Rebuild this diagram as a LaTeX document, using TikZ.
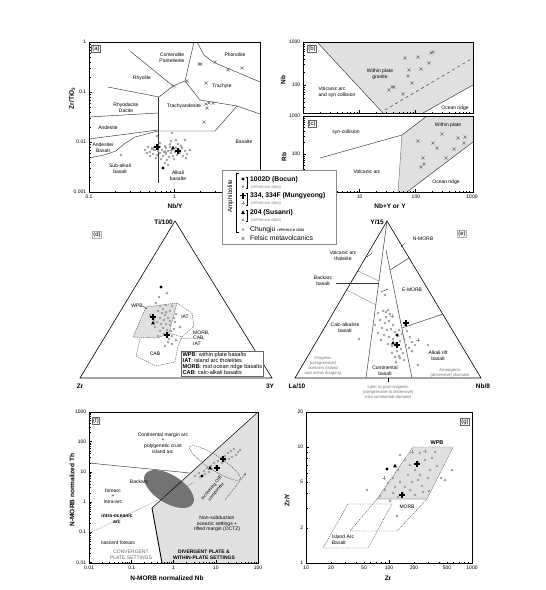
\documentclass[tikz,border=0pt]{standalone}
\usepackage{fontspec}
\setmainfont{Liberation Sans}
\usetikzlibrary{arrows.meta}
\newcommand\TicksX[6]{\foreach \d in {#3,...,#4}{\foreach \k in {1,...,9}{\pgfmathsetmacro\xx{#1+#2*(\d+log10(\k))}\ifnum\k=1\relax\draw[tk](\xx,#5)--++(0,-2*#6);\else\draw[tk](\xx,#5)--++(0,-#6);\fi}}}
\newcommand\TicksY[6]{\foreach \d in {#3,...,#4}{\foreach \k in {1,...,9}{\pgfmathsetmacro\yy{#1-#2*(\d+log10(\k))}\ifnum\k=1\relax\draw[tk](#5,\yy)--++(2*#6,0);\else\draw[tk](#5,\yy)--++(#6,0);\fi}}}
\tikzset{
 xm/.pic={\draw[line width=0.55pt,draw=black!55] (-1.5,-1.5)--(1.5,1.5) (-1.5,1.5)--(1.5,-1.5);},
 gd/.pic={\fill[black!38] (0,0) circle (1.3);},
 gt/.pic={\fill[black!38] (0,-1.7)--(1.5,1.0)--(-1.5,1.0)--cycle;},
 gc/.pic={\draw[black!38,line width=0.8pt] (-1.8,0)--(1.8,0) (0,-1.8)--(0,1.8);},
 bd/.pic={\fill[black] (0,0) circle (1.6);},
 bt/.pic={\fill[black] (0,-2.2)--(1.9,1.3)--(-1.9,1.3)--cycle;},
 bc/.pic={\draw[black,line width=1.3pt] (-3,0)--(3,0) (0,-3)--(0,3);}
}
\begin{document}
\begin{tikzpicture}[x=1pt,y=-1pt,
 lab/.style={font=\fontsize{5}{5.6}\selectfont,align=center,inner sep=0pt},
 smalltxt/.style={font=\fontsize{4.2}{4.9}\selectfont,align=center,inner sep=0pt,text=black!55},
 ticklab/.style={font=\fontsize{5}{5}\selectfont,inner sep=0.6pt},
 axt/.style={font=\fontsize{6.5}{7}\selectfont\bfseries,inner sep=0pt},
 plab/.style={font=\fontsize{6}{6}\selectfont,draw=black!60,line width=0.3pt,inner sep=0.8pt},
 frm/.style={line width=0.7pt},
 bnd/.style={line width=0.45pt,draw=black!80},
 tk/.style={line width=0.3pt},
 dsh/.style={line width=0.4pt,dash pattern=on 1.3pt off 0.9pt,draw=black!70},
 shd/.style={fill=black!12},
 legb/.style={font=\fontsize{6.8}{6.8}\selectfont\bfseries,anchor=west,inner sep=0pt},
 legs/.style={font=\fontsize{4.2}{4.2}\selectfont,anchor=west,inner sep=0pt,text=black!45},
]
\useasboundingbox (0,0) rectangle (546,590);
\fill[white] (0,0) rectangle (546,590);

%%%%%%%%%%%%%%%% (a)
\begin{scope}
\clip (89,42) rectangle (260,192);
\TicksX{174.5}{85.5}{-1}{1}{192}{1.5}
\TicksY{42}{50}{-3}{-1}{89}{1.5}
\end{scope}
\draw[bnd] (130,51)--(173,86);
\draw[bnd] (194,42)--(185,81)--(173,86);
\draw[bnd] (197,42)--(204,55)--(213,62)--(260,82);
\draw[bnd] (185,81)--(200,100)--(237,106)--(260,114);
\draw[bnd] (237,106)--(215,131)--(158,131);
\draw[bnd] (108,87)--(159,97)--(173,86);
\draw[bnd] (158,97)--(158,183);
\draw[bnd] (89,117)--(158,113);
\draw[bnd] (89,139)--(158,130);
\draw[bnd] (89,158)--(104,155)--(116,151)--(124,144)--(135,137)--(158,131);
\draw[frm] (89,42) rectangle (260,192);
\node[lab] (a1) at (172,58) {Comendite\\Pantellerite};
\node[lab] (a2) at (235,55) {Phonolite};
\node[lab] (a3) at (142,78) {Rhyolite};
\node[lab] (a4) at (222,86) {Trachyte};
\node[lab] (a5) at (126,108) {Rhyodacite\\Dacite};
\node[lab] (a6) at (184,106) {Trachyandesite};
\node[lab] (a7) at (108,128) {Andesite};
\node[lab] (a8) at (103,148) {Andesite/\\Basalt};
\node[lab] (a9) at (244,142) {Basalte};
\node[lab] (a10) at (120,169) {Sub-alkali\\basalt};
\node[lab] (a11) at (178,176) {Alkali\\basalte};
\node[plab] (ap) at (96,49) {(a)};
\node[ticklab,anchor=east] (ay1) at (87,42) {1};
\node[ticklab,anchor=east] (ay2) at (87,92) {0.1};
\node[ticklab,anchor=east] (ay3) at (87,142) {0.01};
\node[ticklab,anchor=east] (ay4) at (87,192) {0.001};
\node[ticklab,anchor=north] (ax1) at (89,194) {0.1};
\node[ticklab,anchor=north] (ax2) at (174.5,194) {1};
\node[axt] (axa) at (175,206) {Nb/Y};
\node[axt,rotate=90] (aya) at (72,98) {Zr/TiO\textsubscript{2}};
\foreach \x/\y in {199/64,201/64,215/62,228/70,242/68,187/81,174/86,206/83,206/104,209/103,213/103,207/108,204/122} \pic at (\x,\y) {xm};
\foreach \x/\y in {145/150,148/147,150/152,152/148,153/154,155/150,157/155,158/151,160/147,160/153,162/150,163/156,164/152,166/148,166/154,168/151,169/157,170/147,171/153,172/150,173/156,175/152,176/148,177/155,179/150,180/153,182/148,183/156,185/151,187/154,150/156,147/153,156/158,161/159,167/160,174/159,165/163,168/165,160/143,171/141,157/136,172/133,185/140,178/144,121/155} \pic at (\x,\y) {gd};
\foreach \x/\y in {176/140,181/146,170/144,165/146,186/158,190/150} \pic at (\x,\y) {gt};
\foreach \x/\y in {153/149,171/150,165/152} \pic at (\x,\y) {gc};
\pic at (163,168) {bd};
\pic at (173,148) {bt};
\pic at (157,147) {bc};
\pic at (178,151) {bc};

%%%%%%%%%%%%%%%% (b)
\fill[shd] (317,42)--(473,42)--(473,85)--(423,113)--(383,113)--cycle;
\begin{scope}
\clip (303,42) rectangle (473,113);
\TicksX{303}{56.3}{0}{2}{113}{1.5}
\TicksY{171}{43}{1}{2}{303}{1.5}
\end{scope}
\draw[bnd] (317,42)--(383,113);
\draw[bnd,dashed] (385,110)--(473,58);
\draw[bnd] (423,113)--(473,85);
\draw[frm] (303,42) rectangle (473,113);
\node[plab] (bp) at (312,49) {(b)};
\node[lab] (b1) at (380,74) {Within plate\\granite};
\node[lab,align=left] (b2) at (337,92) {Volcanic arc\\and syn collision};
\node[lab] (b3) at (455,108) {Ocean ridge};
\node[ticklab,anchor=east] (by1) at (301,42) {1000};
\node[ticklab,anchor=east] (by2) at (301,85) {100};
\node[axt,rotate=90] (bya) at (283,80) {Nb};
\foreach \x/\y in {405/58,418/57,431/53,433/52,429/63,409/70,421/69,408/76,412/83,392/87,394/87,389/90,403/94} \pic at (\x,\y) {xm};

%%%%%%%%%%%%%%%% (c)
\fill[shd] (402,135)--(427,116)--(473,116)--(473,142)--(407,192)--(398,192)--cycle;
\begin{scope}
\clip (303,116) rectangle (473,192);
\TicksX{303}{56.3}{0}{2}{192}{1.5}
\TicksY{230}{38}{1}{2}{303}{1.5}
\end{scope}
\draw[bnd] (320,158)--(402,135)--(427,116);
\draw[bnd,draw=black!55] (402,135)--(398,192);
\draw[bnd] (407,192)--(473,142);
\draw[frm] (303,116) rectangle (473,192);
\node[plab] (cp) at (312,124) {(c)};
\node[lab] (c1) at (346,132) {syn-collision};
\node[lab] (c2) at (448,125) {Within plate};
\node[lab] (c3) at (367,172) {Volcanic arc};
\node[lab] (c4) at (446,182) {Ocean ridge};
\node[ticklab,anchor=east] (cy1) at (301,116) {1000};
\node[ticklab,anchor=east] (cy2) at (301,154) {100};
\node[ticklab,anchor=north] (cx1) at (359.6,194) {10};
\node[ticklab,anchor=north] (cx2) at (415.9,194) {100};
\node[ticklab,anchor=north] (cx3) at (472,194) {1000};
\node[axt] (cxa) at (390,206) {Nb+Y or Y};
\node[axt,rotate=90] (cya) at (284,157) {Rb};
\foreach \x/\y in {418/141,433/143,437/148,442/134,458/138,465/137,464/143,454/149,446/158,423/158,424/164,421/167} \pic at (\x,\y) {xm};

%%%%%%%%%%%%%%%% legend
\node[draw=black!45,fill=white,line width=0.4pt,minimum width=114pt,minimum height=74pt,anchor=north west,inner sep=0pt] (leg) at (222,170) {};
\node[font=\fontsize{6.3}{6.3}\selectfont,rotate=90,inner sep=0pt] (amph) at (230.5,196) {Amphibolite};
\draw[line width=0.4pt] (239,173)--(236,173)--(236,232)--(239,232);
\pic at (243,179) {bd}; \pic at (243,186.5) {gd};
\draw[tk] (246,177)--(247.5,177)--(247.5,188.5)--(246,188.5);
\node[legb] (l1) at (250,179.5) {1002D (Bocun)};
\node[legs] (l1r) at (251,187) {(reference data)};
\pic at (243,195.5) {bc}; \pic at (243,203) {gc};
\draw[tk] (246,193)--(247.5,193)--(247.5,205)--(246,205);
\node[legb] (l2) at (250,195.5) {334, 334F (Mungyeong)};
\node[legs] (l2r) at (251,203) {(reference data)};
\pic at (243,212.5) {bt}; \pic at (243,220) {gt};
\draw[tk] (246,210)--(247.5,210)--(247.5,221.5)--(246,221.5);
\node[legb] (l3) at (250,212.5) {204 (Susanri)};
\node[legs] (l3r) at (251,220) {(reference data)};
\pic at (243,229.5) {gd};
\node[anchor=west,inner sep=0pt,font=\fontsize{6.8}{6.8}\selectfont] (l4) at (250,229.5) {Chungju {\fontsize{4.2}{4.2}\selectfont reference data}};
\pic at (243,238.5) {xm};
\node[anchor=west,inner sep=0pt,font=\fontsize{6.8}{6.8}\selectfont] (l5) at (250,238.5) {Felsic metavolcanics};

%%%%%%%%%%%%%%%% (d)
\filldraw[shd,dsh] (146,307)--(177,303)--(169,333)--(158,338)--(133,337)--cycle;
\draw[dsh] (177,303)--(192,313)--(194,326)--(182,337)--(169,333);
\draw[dsh] (140,339)--(136,356)--(156,366)--(175,362)--(178,346)--(182,337);
\draw[line width=0.6pt] (175,221)--(80,378)--(272,378)--cycle;
\foreach \x/\y in {159/297,156/303,160/306,163/309,158/311,162/313,165/315,160/318,164/320,168/318,157/322,161/324,166/324,170/325,163/328,167/330,171/331,160/331,164/334,172/336,169/339,174/329,175/322,155/327,150/315,170/311,172/306,166/305,176/314,154/320,168/342,165/346,172/344,158/336} \pic at (\x,\y) {gd};
\foreach \x/\y in {167/293,166/312,170/321,176/340,174/318,180/327} \pic at (\x,\y) {gt};
\pic at (161,287) {bd};
\pic at (153,323) {bt};
\pic at (153,317) {bc};
\pic at (167,335) {bc};
\node[lab] (dw) at (137,306) {WPB};
\draw[tk] (dw.east)--(147,309);
\node[lab] (di) at (185,317) {IAT};
\node[lab,align=left,anchor=west] (dm) at (193,338) {MORB,\\CAB,\\IAT};
\draw[tk,draw=black!50] (179,339)--(dm.west);
\node[lab] (dc) at (155,354) {CAB};
\node[plab,draw=black!30] (dp) at (97,235) {(d)};
\node[axt,anchor=east] (dt) at (173,222) {Ti/100};
\node[axt] (dz) at (80,386) {Zr};
\node[axt] (dy) at (270,386) {3Y};
\node[draw=black!60,fill=white,line width=0.4pt,font=\fontsize{5.6}{6}\selectfont,align=left,anchor=north west,inner sep=1.5pt] (dleg) at (181,351) {\textbf{WPB}: within plate basalts\\\textbf{IAT}: island arc tholeiites\\\textbf{MORB}: mid ocean ridge basalts\\\textbf{CAB}: calc-alkali basalts};

%%%%%%%%%%%%%%%% (e)
\draw[line width=0.6pt] (387,221)--(295,378)--(481,378)--cycle;
\draw[bnd] (387,221)--(366,378);
\draw[bnd] (386,250)--(412,378);
\draw[bnd] (390,270)--(409,258);
\draw[bnd] (402,328)--(443,314);
\draw[tk,draw=black!55] (358,271)--(379,281);
\draw[tk,draw=black!55] (347,290)--(376,305);
\draw[bnd] (336,283)--(379,283);
\draw[tk] (367,257)--(372,253);
\draw[tk] (401,247)--(405,243);
\draw[tk] (381,292)--(388,289);
\draw[tk] (388,378)--(388,382);
\foreach \x/\y in {378/313,383/311,386/317,390/314,380/320,385/323,389/321,393/325,382/328,387/330,391/329,395/332,399/330,384/335,389/337,393/339,398/336,402/334,388/344,392/346,396/343,400/341,404/339,406/345,401/349,397/351,392/353,395/357,399/356,403/353,409/348,412/342,410/337,407/331,378/333,381/340,386/312,375/325,415/345,404/360,359/339,385/295,428/345,418/365} \pic at (\x,\y) {gd};
\foreach \x/\y in {388/310,400/358,396/362,412/351,405/325} \pic at (\x,\y) {gt};
\foreach \x/\y in {418/340,392/316} \pic at (\x,\y) {gc};
\pic at (397,335) {bd};
\pic at (393,343) {bt};
\pic at (406,323) {bc};
\pic at (397,345) {bc};
\node[axt,anchor=east] (ey) at (384,222) {Y/15};
\node[plab,draw=black!30] (ep) at (462,234) {(e)};
\node[lab] (e1) at (423,239) {N-MORB};
\node[lab] (e2) at (343,256) {Volcanic arc\\tholeiite};
\node[lab] (e3) at (323,281) {Backarc\\basalt};
\node[lab] (e4) at (412,290) {E-MORB};
\node[lab] (e5) at (345,328) {Calc-alkaline\\basalt};
\node[lab] (e6) at (385,371) {Continental\\basalt};
\node[lab] (e7) at (438,356) {Alkali rift\\basalt};
\node[smalltxt] (e8) at (323,366) {Orogenic\\(compressive)\\domains (island\\and active margins)};
\node[smalltxt] (e9) at (450,373) {Anorogenic\\(distensive) domains};
\node[smalltxt] (e10) at (388,392) {Late- to post-orogenic\\(compressive to distensive)\\intra-continental domains};
\node[axt] (ela) at (297,386) {La/10};
\node[axt] (enb) at (483,386) {Nb/8};

%%%%%%%%%%%%%%%% (f)
\fill[shd] (258,412)--(258,563)--(162,563)--(152,508)--cycle;
\fill[black!55,rotate around={-32:(169,489)}] (169,489) ellipse (28 and 14);
\begin{scope}
\clip (89,412) rectangle (258,563);
\TicksX{173.5}{42.25}{-2}{2}{563}{1.5}
\TicksY{502}{30.2}{-2}{2}{89}{1.5}
\end{scope}
\draw[line width=0.5pt] (152,508)--(258,412);
\draw[line width=0.9pt] (152,508)--(162,563);
\draw[bnd] (89,463)--(190,473);
\draw[dsh,draw=black!50] (90,533)--(195,482);
\draw[dsh,rotate around={-33:(215,463)}] (215,463) ellipse (30 and 7);
\foreach \x/\y in {195/476,199/473,204/471,207/468,211/466,214/463,218/461,221/458,225/456,228/453,231/451,234/449,236/455,229/459,222/463,216/466,209/472,200/477,212/469,225/461,238/452,232/457} \pic at (\x,\y) {gd};
\foreach \x/\y in {240/450,205/474} \pic at (\x,\y) {gt};
\pic at (202,476) {bd};
\pic at (210,468) {bt};
\pic at (217,468) {bc};
\pic at (223,459) {bc};
\coordinate (fa0) at (225,500);
\coordinate (fa1) at (246,473);
\draw[line width=0.5pt,draw=black!60,dash pattern=on 1.5pt off 0.8pt,-{Stealth[length=3pt,width=2.5pt]}] (fa0)--(fa1);
\node[lab,rotate=50,font=\fontsize{4.5}{6}\selectfont] (fa) at (214,490) {Increasing OIB\\component};
\draw[frm] (89,412) rectangle (258,563);
\node[plab] (fp) at (96,421) {(f)};
\node[lab] (f1) at (163,443) {Continental margin arc\\+\\polygenetic crust\\island arc};
\node[lab] (f2) at (139,482) {Backarc};
\node[lab] (f3) at (113,496) {forearc\\+\\intra-arc};
\node[lab,font=\fontsize{5}{5.6}\selectfont\bfseries] (f4) at (117,519) {intra-oceanic\\arc};
\node[lab] (f5) at (118,543) {nascent forearc};
\node[lab,text=black!60] (f6) at (131,555) {CONVERGENT\\PLATE SETTINGS};
\node[lab,font=\fontsize{5}{5.6}\selectfont\bfseries] (f7) at (204,555) {DIVERGENT PLATE \&\\WITHIN-PLATE SETTINGS};
\node[lab] (f8) at (217,524) {Non-subduction\\oceanic settings +\\rifted margin (OCTZ)};
\node[ticklab,anchor=north] (fx1) at (89,565) {0.01};
\node[ticklab,anchor=north] (fx2) at (131.75,565) {0.1};
\node[ticklab,anchor=north] (fx3) at (173.5,565) {1};
\node[ticklab,anchor=north] (fx4) at (215.75,565) {10};
\node[ticklab,anchor=north] (fx5) at (258,565) {100};
\node[ticklab,anchor=east] (fy1) at (87,563) {0.01};
\node[ticklab,anchor=east] (fy2) at (87,532.2) {0.1};
\node[ticklab,anchor=east] (fy3) at (87,502) {1};
\node[ticklab,anchor=east] (fy4) at (87,471.8) {10};
\node[ticklab,anchor=east] (fy5) at (87,441.6) {100};
\node[ticklab,anchor=east] (fy6) at (87,412) {1000};
\node[axt] (fxa) at (167,578) {N-MORB normalized Nb};
\node[axt,rotate=90] (fya) at (72,490) {N-MORB normalized Th};

%%%%%%%%%%%%%%%% (g)
\filldraw[shd,dsh] (377,499)--(427,499)--(453,447)--(413,447)--cycle;
\draw[dsh] (350,531)--(397,531)--(427,499)--(377,499)--cycle;
\draw[dsh] (323,548)--(368,548)--(392,504)--(348,504)--cycle;
\begin{scope}
\clip (306,412) rectangle (472,563);
\TicksX{223}{83}{1}{2}{563}{1.5}
\TicksY{563}{116}{0}{1}{306}{1.5}
\end{scope}
\draw[frm] (306,412) rectangle (472,563);
\foreach \x/\y in {400/455,405/460,410/465,415/470,420/475,408/475,398/470,393/478,400/482,395/487,405/487,412/482,418/480,422/486,410/490,403/493,393/493,385/490,388/483,423/492,428/478,430/470,418/462,425/460,432/458,435/452,420/453,380/496,415/495,398/497,367/490,397/516,441/478} \pic at (\x,\y) {gd};
\foreach \x/\y in {437/466,445/480,429/491,390/501,452/470} \pic at (\x,\y) {gt};
\foreach \x/\y in {412/452,425/451,384/478} \pic at (\x,\y) {gc};
\pic at (387,469) {bd};
\pic at (395,466) {bt};
\pic at (417,464) {bc};
\pic at (402,495) {bc};
\node[lab,font=\fontsize{5.5}{6}\selectfont\bfseries] (gw) at (437,443) {WPB};
\node[lab] (gm) at (407,507) {MORB};
\node[lab,align=left] (gi) at (343,540) {Island Arc\\Basalt};
\node[plab] (gp) at (465,422) {(g)};
\node[ticklab,anchor=north] (gx1) at (306,565) {10};
\node[ticklab,anchor=north] (gx2) at (331,565) {20};
\node[ticklab,anchor=north] (gx3) at (364,565) {50};
\node[ticklab,anchor=north] (gx4) at (389,565) {100};
\node[ticklab,anchor=north] (gx5) at (414,565) {200};
\node[ticklab,anchor=north] (gx6) at (447,565) {500};
\node[ticklab,anchor=north] (gx7) at (472,565) {1000};
\node[ticklab,anchor=east] (gy1) at (304,563) {1};
\node[ticklab,anchor=east] (gy2) at (304,528) {2};
\node[ticklab,anchor=east] (gy3) at (304,482) {5};
\node[ticklab,anchor=east] (gy4) at (304,447) {10};
\node[ticklab,anchor=east] (gy5) at (304,412) {20};
\node[axt] (gxa) at (388,578) {Zr};
\node[axt,rotate=90] (gya) at (287,500) {Zr/Y};
\end{tikzpicture}
\end{document}
